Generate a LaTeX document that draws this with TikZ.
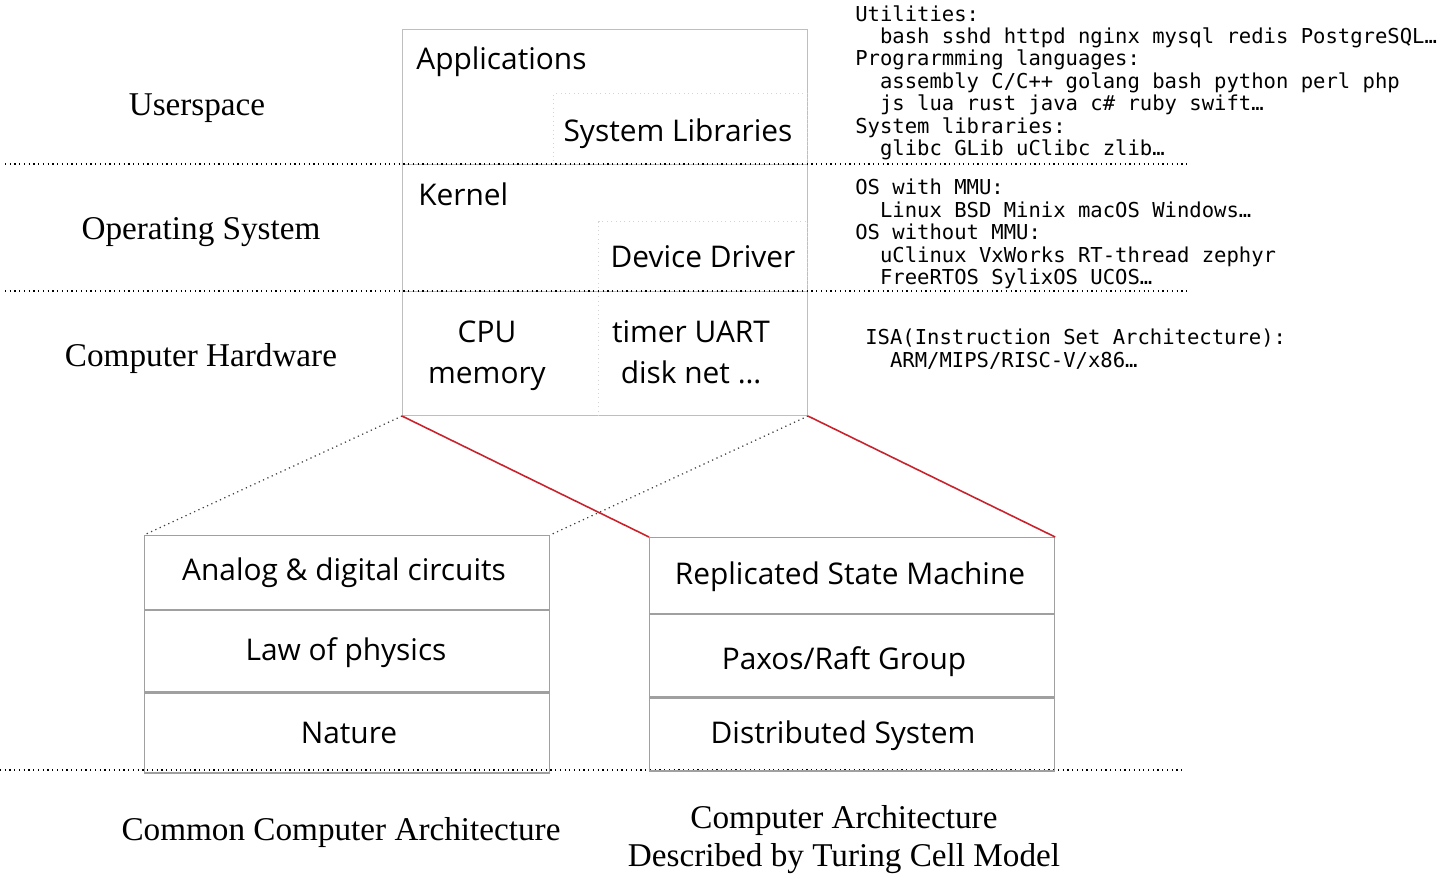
\documentclass[tikz,border=0pt]{standalone}
\usepackage{fontspec}
\setmainfont{Liberation Serif}
\newfontfamily\boxfont{Open Sans}
\newfontfamily\codefont{DejaVu Sans Mono}
\usetikzlibrary{positioning}
\definecolor{framegray}{RGB}{190,190,190}
\definecolor{cellgray}{RGB}{160,160,160}
\definecolor{innergray}{RGB}{212,212,212}
\definecolor{linkred}{RGB}{200,35,45}
\tikzset{
  layer/.style={draw=framegray, line width=0.6pt, inner sep=0pt, anchor=north west},
  sublayer/.style={draw=innergray, dotted, line width=0.5pt, inner sep=0pt, anchor=south east, font=\boxfont\fontsize{17}{22}\selectfont},
  cell/.style={draw=cellgray, line width=0.7pt, minimum width=8.1cm, inner sep=0pt, font=\boxfont\fontsize{17}{22}\selectfont},
  lbl/.style={font=\boxfont\fontsize{17}{23.3}\selectfont, inner sep=0pt},
  tier/.style={font=\fontsize{18.9}{21.6}\selectfont, inner sep=0pt, align=center},
  listing/.style={font=\codefont\fontsize{11.7}{12.77}\selectfont, inner sep=0pt, anchor=north west, align=left},
  divider/.style={dotted, line width=0.7pt},
  zoomline/.style={dotted, line width=0.7pt, black!75},
  redlink/.style={linkred, line width=0.9pt}
}
\begin{document}
\begin{tikzpicture}[x=0.02cm,y=-0.02cm]
\useasboundingbox (0,0) rectangle (1439,878);
% upper stack
\node[layer, minimum width=8.1cm, minimum height=2.7cm] (apps) at (402,29) {};
\node[layer, minimum width=8.1cm, minimum height=2.54cm] (kernel) at (402,164) {};
\node[layer, minimum width=8.1cm, minimum height=2.48cm] (hw) at (402,291) {};
\node[sublayer, minimum width=5.08cm, minimum height=1.42cm] (syslib) at (apps.south east) {};
\node[sublayer, minimum width=4.18cm, minimum height=1.4cm] (driver) at (kernel.south east) {};
\draw[innergray, dotted, line width=0.5pt] (driver.south west) -- (driver.south west |- hw.south);
\node[lbl, anchor=west] (appstext) at (416,62) {Applications};
\node[lbl] (syslibtext) at (678,134) {System Libraries};
\node[lbl, anchor=west] (kerneltext) at (418,194) {Kernel};
\node[lbl] (drivertext) at (703,257) {Device Driver};
\node[lbl, align=center] (cpu) at (487,356) {CPU\\memory};
\node[lbl, align=center] (periph) at (691,352) {timer UART\\disk net \ldots};
% layer names
\node[tier] (user) at (197,108) {Userspace};
\node[tier] (os) at (201,232) {Operating System};
\node[tier] (hwname) at (201,359) {Computer Hardware};
\draw[divider] (5,164) -- (1190,164);
\draw[divider] (5,291) -- (1188,291);
\draw[divider] (0,770) -- (1183,770);
% lower stacks
\node[cell, minimum height=1.48cm, anchor=north west] (analog) at (144,535) {};
\node[cell, minimum height=1.62cm, below=0pt of analog] (physics) {};
\node[cell, minimum height=1.6cm, below=0pt of physics] (nature) {};
\node[cell, minimum height=1.52cm, anchor=north west] (rsm) at (649,537) {};
\node[cell, minimum height=1.64cm, below=0pt of rsm] (paxos) {};
\node[cell, minimum height=1.46cm, below=0pt of paxos] (dist) {};
\node[lbl] (analogtext) at (344,573) {Analog \& digital circuits};
\node[lbl] (physicstext) at (346,653) {Law of physics};
\node[lbl] (naturetext) at (349,733) {Nature};
\node[lbl] (rsmtext) at (850,577) {Replicated State Machine};
\node[lbl] (paxostext) at (844,662) {Paxos/Raft Group};
\node[lbl] (disttext) at (843,736) {Distributed System};
\draw[zoomline] (hw.south west) -- (analog.north west);
\draw[zoomline] (hw.south east) -- (analog.north east);
\draw[redlink] (hw.south west) -- (rsm.north west);
\draw[redlink] (hw.south east) -- (rsm.north east);
\node[tier] (common) at (341,833) {Common Computer Architecture};
\node[tier] (turing) at (844,840) {Computer Architecture\\Described by Turing Cell Model};
% notes on the right
\node[listing] (usernotes) at (855,5) {Utilities:\\
\phantom{xx}bash sshd httpd nginx mysql redis PostgreSQL…\\
Prograrmming languages:\\
\phantom{xx}assembly C/C++ golang bash python perl php\\
\phantom{xx}js lua rust java c\# ruby swift…\\
System libraries:\\
\phantom{xx}glibc GLib uClibc zlib…};
\node[listing] (osnotes) at (855,179) {OS with MMU:\\
\phantom{xx}Linux BSD Minix macOS Windows…\\
OS without MMU:\\
\phantom{xx}uClinux VxWorks RT-thread zephyr\\
\phantom{xx}FreeRTOS SylixOS UCOS…};
\node[listing] (isanotes) at (865,329) {ISA(Instruction Set Architecture):\\
\phantom{xx}ARM/MIPS/RISC-V/x86…};
\end{tikzpicture}
\end{document}
